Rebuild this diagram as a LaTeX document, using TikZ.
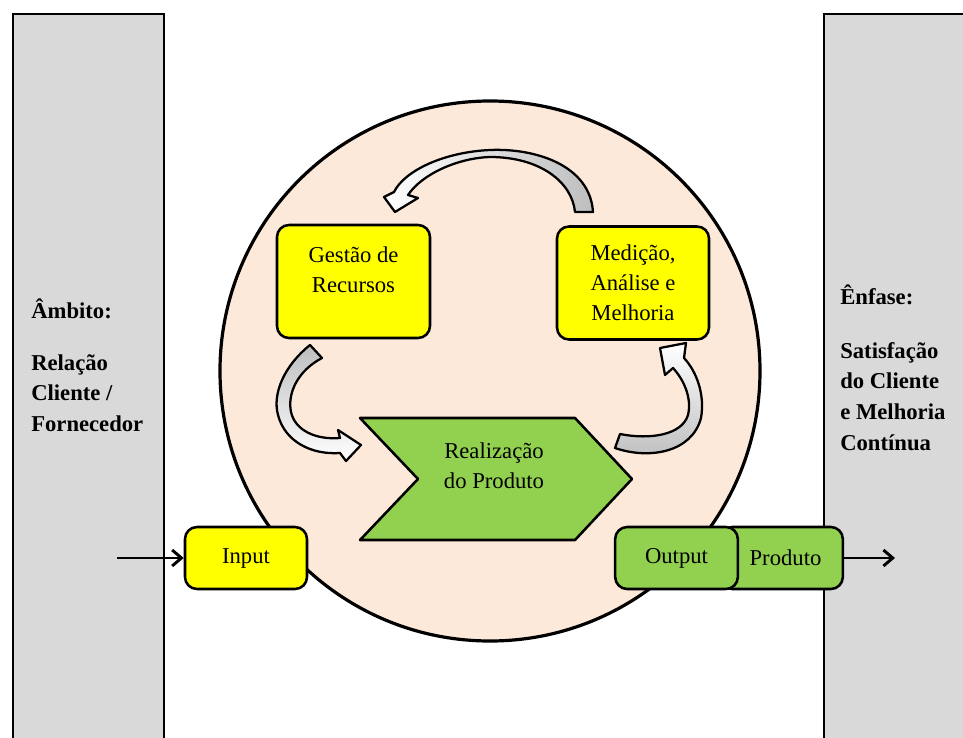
\documentclass[tikz,border=0pt]{standalone}
\usepackage{fontspec}
\setmainfont{Liberation Serif}
\usetikzlibrary{arrows.meta}
\definecolor{panelgray}{HTML}{D9D9D9}
\definecolor{peach}{HTML}{FDE9D9}
\definecolor{boxyellow}{HTML}{FFFF00}
\definecolor{boxgreen}{HTML}{92D050}
\definecolor{ribbongray}{HTML}{BEBEBE}
\begin{document}
\begin{tikzpicture}[x=0.75pt,y=-0.75pt,
  panel/.style={draw=black,line width=2.2pt,fill=panelgray},
  card/.style={draw=black,line width=1.9pt,rounded corners=9pt,inner sep=0pt,
    font=\fontsize{17}{22.5}\selectfont,align=center},
  cardtext/.style={inner sep=0pt,font=\fontsize{17}{22.5}\selectfont,align=center},
  sidetitle/.style={inner sep=0pt,anchor=base west,font=\bfseries\fontsize{17}{23}\selectfont},
  sidebody/.style={inner sep=0pt,anchor=north west,align=left,font=\bfseries\fontsize{17}{23}\selectfont},
  ribbon/.style={draw=black,line width=1.7pt,line join=round},
  flow/.style={line width=2.2pt,-{Straight Barb[length=7pt,width=12pt,line width=2.2pt]}}
]
\useasboundingbox (0,0) rectangle (963,738);
\clip (0,0) rectangle (963,738);

% side panels (their lower and outer edges run past the page)
\draw[panel] (13,14) rectangle (164,770);
\draw[panel] (824,14) rectangle (1000,770);

% central process circle
\draw[fill=peach,line width=2.4pt] (490,371) circle [radius=202.5pt];

% curved ribbon arrows of the cycle
\draw[ribbon,left color=white,right color=ribbongray]
  (593,212) .. controls (590,165) and (535,148) .. (490,150)
  .. controls (445,152) and (405,170) .. (394,192)
  -- (384,197) -- (395,212) -- (418,198) -- (408,195)
  .. controls (422,174) and (458,158) .. (490,157)
  .. controls (540,157) and (572,182) .. (575,212) -- cycle;
\draw[ribbon,top color=ribbongray,bottom color=white]
  (310,345) .. controls (285,365) and (272,393) .. (278,415)
  .. controls (285,442) and (312,455) .. (340,453)
  -- (346,461) -- (361,445) -- (338,430) -- (340,438)
  .. controls (315,440) and (295,430) .. (291,412)
  .. controls (287,392) and (299,370) .. (322,358) -- cycle;
\draw[ribbon,top color=white,bottom color=ribbongray]
  (615,448) .. controls (650,460) and (692,452) .. (701,418)
  .. controls (705,395) and (697,372) .. (684,358)
  -- (686,343) -- (660,348) -- (665,375) -- (673,368)
  .. controls (684,380) and (692,398) .. (688,415)
  .. controls (682,435) and (650,440) .. (620,434) -- cycle;

% process boxes
\node[card,fill=boxyellow,minimum width=114.75pt,minimum height=84.75pt] (gestao) at (353.5,281.5) {};
\node[cardtext] (gestaotxt) at (353.5,270) {Gestão de\\Recursos};
\node[card,fill=boxyellow,minimum width=114pt,minimum height=84.75pt] (medicao) at (633,283) {Medição,\\Análise e\\Melhoria};

\draw[draw=black,line width=1.9pt,line join=round,fill=boxgreen]
  (360,418) -- (575,418) -- (632,479) -- (575,540) -- (360,540) -- (418,479) -- cycle;
\node[cardtext] (realizacao) at (494,466) {Realização\\do Produto};

\node[card,fill=boxgreen,minimum width=92pt,minimum height=46.5pt] (produto) at (781.5,558) {\hspace*{6pt}Produto};
\node[card,fill=boxgreen,minimum width=92pt,minimum height=46.5pt] (output) at (676.5,558) {Output};
\node[card,fill=boxyellow,minimum width=91.5pt,minimum height=46.5pt] (input) at (246,558) {Input};

% flow in and out
\coordinate (inflow) at (117,558);
\coordinate (outflow) at (895,558);
\draw[flow] (inflow) -- (input.west);
\draw[flow] (produto.east) -- (outflow);

% side captions
\node[sidetitle] (ambito) at (31,318) {Âmbito:};
\node[sidebody] (relacao) at (31,354) {Relação\\Cliente /\\Fornecedor};
\node[sidetitle] (enfase) at (840,304) {Ênfase:};
\node[sidebody] (satisfacao) at (840,342) {Satisfação\\do Cliente\\e Melhoria\\Contínua};
\end{tikzpicture}
\end{document}
